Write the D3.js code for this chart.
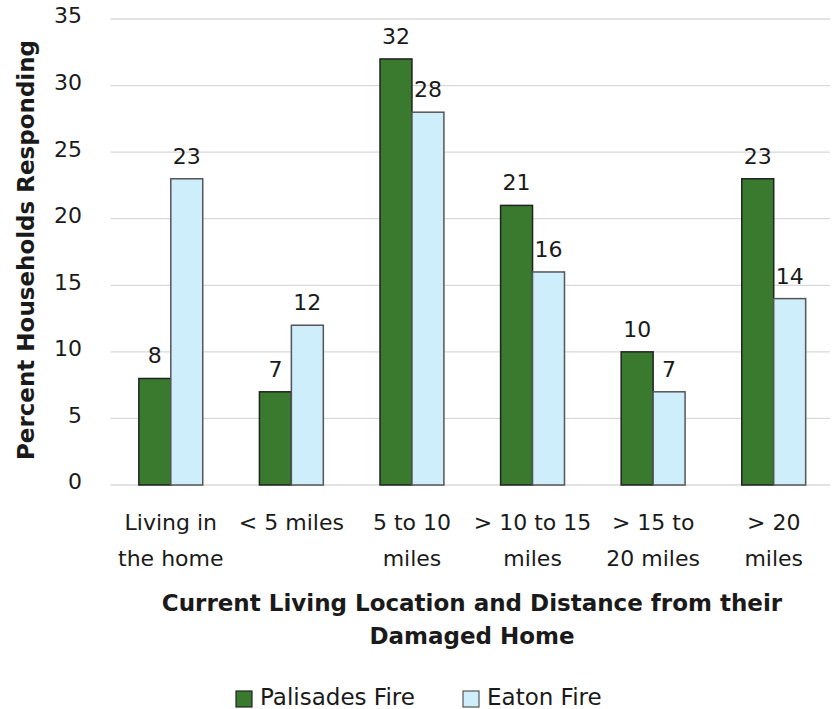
<!DOCTYPE html>
<html><head><meta charset="utf-8">
<script src="https://cdn.jsdelivr.net/npm/d3@7"></script>
<style>body{margin:0;background:#fff}svg{display:block}text{font-family:"DejaVu Sans",sans-serif;fill:#1a1a1a}</style>
</head><body><svg id="c" width="835" height="709"></svg>
<script>
const categories = [["Living in","the home"],["< 5 miles"],["5 to 10","miles"],["> 10 to 15","miles"],["> 15 to","20 miles"],["> 20","miles"]];
const series = ["Palisades Fire","Eaton Fire"];
const palisades = [8,7,32,21,10,23];
const eaton = [23,12,28,16,7,14];
const yTicks = [0,5,10,15,20,25,30,35];
const colors = ["#3a7a2e","#cdeefa"];
const strokes = ["#222","#555"];

const svg = d3.select("#c");
const x0 = 110.5, x1 = 834, yTop = 19, yBot = 485;
const x = d3.scaleBand().domain(d3.range(categories.length)).range([x0,x1]).paddingInner(0.47).paddingOuter(0.235);
const xs = d3.scaleBand().domain([0,1]).range([0,x.bandwidth()]);
const y = d3.scaleLinear().domain([0,35]).range([yBot,yTop]);

svg.append("g").selectAll("line").data(yTicks).join("line")
 .attr("x1",x0).attr("x2",830).attr("y1",d=>y(d)).attr("y2",d=>y(d))
 .attr("stroke","#d9d9d9").attr("stroke-width",1.3);
svg.append("g").selectAll("text").data(yTicks).join("text")
 .attr("x",82).attr("y",d=>y(d)).attr("dy","0.2em").attr("text-anchor","end")
 .attr("font-size",22).text(d=>d);

const vals=[palisades,eaton];
categories.forEach((c,i)=>{
  vals.forEach((v,s)=>{
    const bx = x(i)+xs(s);
    svg.append("rect").attr("x",bx).attr("y",y(v[i])).attr("width",xs.bandwidth()).attr("height",y(0)-y(v[i]))
      .attr("fill",colors[s]).attr("stroke",strokes[s]).attr("stroke-width",1.5);
    svg.append("text").attr("x",bx+xs.bandwidth()/2).attr("y",y(v[i])-15).attr("text-anchor","middle")
      .attr("font-size",22).text(v[i]);
  });
  const t = svg.append("text").attr("text-anchor","middle").attr("font-size",22);
  c.forEach((ln,k)=>t.append("tspan").attr("x",x(i)+x.bandwidth()/2).attr("y",530+k*36).text(ln));
});

svg.append("text").attr("transform","translate(34,250) rotate(-90)").attr("text-anchor","middle")
 .attr("font-size",23).attr("font-weight",700).text("Percent Households Responding");
const xt = svg.append("text").attr("text-anchor","middle").attr("font-size",23).attr("font-weight",700);
xt.append("tspan").attr("x",472).attr("y",611).text("Current Living Location and Distance from their");
xt.append("tspan").attr("x",472).attr("y",644).text("Damaged Home");

const lx=[236,463];
series.forEach((s,k)=>{
  svg.append("rect").attr("x",lx[k]).attr("y",691).attr("width",16).attr("height",16)
   .attr("fill",colors[k]).attr("stroke",strokes[k]).attr("stroke-width",1.2);
  svg.append("text").attr("x",lx[k]+24).attr("y",705).attr("font-size",23).text(s);
});
</script></body></html>
